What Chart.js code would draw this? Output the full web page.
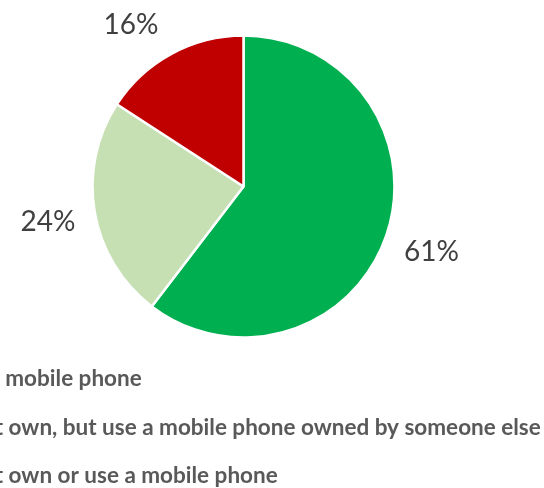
<!DOCTYPE html>
<html>
<head>
<meta charset="utf-8">
<script src="https://cdn.jsdelivr.net/npm/chart.js@4.4.1/dist/chart.umd.min.js"></script>
<style>
  html, body { margin: 0; padding: 0; background: #fff; overflow: hidden; }
  #wrap { position: relative; width: 544px; height: 488px; }
</style>
</head>
<body>
<div id="wrap"><canvas id="phoneChart"></canvas></div>
<script>
// Mobile phone access, share of respondents
const LABELS = [
  "Own a mobile phone",
  "Do not own, but use a mobile phone owned by someone else",
  "Do not own or use a mobile phone"
];
const SHARES = [61, 24, 16];
const COLOURS = ["#00B050", "#C6E0B4", "#C00000"];

// Percent labels sit on a ring outside the pie, pushed down if they would hit the top edge
const pctLabels = {
  id: "pctLabels",
  afterDatasetsDraw(chart, args, opts) {
    const ctx = chart.ctx;
    const arcs = chart.getDatasetMeta(0).data;
    ctx.save();
    ctx.font = opts.font;
    ctx.fillStyle = opts.color;
    ctx.textAlign = "center";
    ctx.textBaseline = "alphabetic";
    const capH = ctx.measureText("0").actualBoundingBoxAscent;
    arcs.forEach((arc, i) => {
      const p = arc.getProps(["x", "y", "startAngle", "endAngle", "outerRadius"], true);
      const mid = (p.startAngle + p.endAngle) / 2;
      const r = p.outerRadius + opts.offset;
      let lx = p.x + Math.cos(mid) * r;
      let ly = p.y + Math.sin(mid) * r;
      if (ly < opts.minY) {
        ly = opts.minY;
        const dx = Math.sqrt(Math.max(r * r - (ly - p.y) ** 2, 0));
        lx = p.x + (Math.cos(mid) < 0 ? -dx : dx);
      }
      ctx.fillText(SHARES[i] + "%", lx, ly + capH / 2);
    });
    ctx.restore();
  }
};

// Legend rows under the pie, one per category
const rowLegend = {
  id: "rowLegend",
  afterDraw(chart, args, opts) {
    const ctx = chart.ctx;
    const colours = chart.data.datasets[0].backgroundColor;
    ctx.save();
    ctx.font = opts.font;
    ctx.textBaseline = "alphabetic";
    chart.data.labels.forEach((label, i) => {
      const y = opts.top + i * opts.rowGap;
      ctx.fillStyle = colours[i];
      ctx.fillRect(opts.x, y - opts.box, opts.box, opts.box);
      ctx.fillStyle = opts.color;
      ctx.fillText(label, opts.x + opts.box + opts.gap, y);
    });
    ctx.restore();
  }
};

new Chart(document.getElementById("phoneChart"), {
  type: "pie",
  data: {
    labels: LABELS,
    datasets: [{
      data: SHARES,
      backgroundColor: COLOURS,
      borderColor: "#ffffff",
      borderWidth: 2.5,
      hoverOffset: 0
    }]
  },
  options: {
    responsive: true,
    maintainAspectRatio: false,
    animation: false,
    radius: 151,
    layout: { padding: { top: 10, bottom: 125, left: 0, right: 57 } },
    plugins: {
      legend: { display: false },
      tooltip: { enabled: false },
      pctLabels: { font: "28px Lato", color: "#404040", offset: 47.5, minY: 23 },
      rowLegend: {
        font: "bold 22.5px Lato", color: "#595959",
        x: -88, box: 14, gap: 8, top: 386, rowGap: 48.5
      }
    }
  },
  plugins: [pctLabels, rowLegend]
});
</script>
</body>
</html>
